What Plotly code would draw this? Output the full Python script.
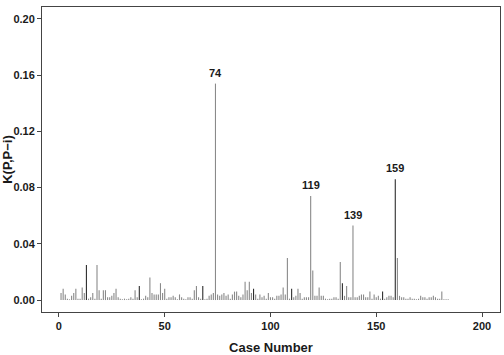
import plotly.graph_objects as go

cases = list(range(1, 185))
k_values = [
    0.005, 0.008, 0.004, 0.001, 0.0005, 0.003, 0.005, 0.008, 0.001, 0.001,
    0.009, 0.005, 0.025, 0.001, 0.002, 0.005, 0.001, 0.025, 0.007, 0.001,
    0.007, 0.007, 0.002, 0.002, 0.003, 0.005, 0.008, 0.002, 0.001, 0.0005,
    0.001, 0.0005, 0.001, 0.002, 0.001, 0.007, 0.002, 0.010, 0.0005, 0.001,
    0.003, 0.002, 0.016, 0.005, 0.004, 0.004, 0.004, 0.012, 0.005, 0.008,
    0.001, 0.002, 0.002, 0.003, 0.002, 0.0005, 0.004, 0.002, 0.001, 0.0005,
    0.002, 0.002, 0.001, 0.007, 0.010, 0.002, 0.001, 0.010, 0.0005, 0.001,
    0.003, 0.004, 0.005, 0.154, 0.004, 0.003, 0.004, 0.005, 0.003, 0.004,
    0.001, 0.004, 0.006, 0.006, 0.003, 0.002, 0.004, 0.013, 0.007, 0.013,
    0.005, 0.008, 0.004, 0.001, 0.004, 0.002, 0.003, 0.001, 0.005, 0.002,
    0.002, 0.001, 0.003, 0.003, 0.004, 0.009, 0.004, 0.030, 0.001, 0.008,
    0.002, 0.003, 0.008, 0.005, 0.001, 0.002, 0.002, 0.002, 0.074, 0.021,
    0.003, 0.003, 0.009, 0.003, 0.003, 0.001, 0.0005, 0.001, 0.001, 0.002,
    0.002, 0.001, 0.027, 0.012, 0.003, 0.010, 0.002, 0.002, 0.053, 0.002,
    0.002, 0.003, 0.004, 0.004, 0.002, 0.002, 0.006, 0.001, 0.004, 0.002,
    0.003, 0.001, 0.006, 0.001, 0.002, 0.003, 0.003, 0.002, 0.086, 0.030,
    0.003, 0.002, 0.002, 0.001, 0.001, 0.002, 0.001, 0.001, 0.0005, 0.001,
    0.003, 0.002, 0.002, 0.001, 0.002, 0.002, 0.003, 0.002, 0.001, 0.001,
    0.006, 0.0005, 0.0005, 0.0005,
]
dark_cases = [13, 38, 68, 92, 110, 134, 153, 159]
labelled_cases = [74, 119, 139, 159]
x_ticks = [0, 50, 100, 150, 200]
y_ticks = [0.00, 0.04, 0.08, 0.12, 0.16, 0.20]


def spikes(selector):
    xs, ys = [], []
    for c, v in zip(cases, k_values):
        if selector(c):
            xs += [c, c, None]
            ys += [0, v, None]
    return xs, ys


fig = go.Figure()
gx, gy = spikes(lambda c: c not in dark_cases)
dx, dy = spikes(lambda c: c in dark_cases)
fig.add_trace(go.Scatter(x=gx, y=gy, mode="lines",
                         line=dict(color="#8a8a8a", width=1.1),
                         hoverinfo="skip", showlegend=False))
fig.add_trace(go.Scatter(x=dx, y=dy, mode="lines",
                         line=dict(color="#2e2e2e", width=1.1),
                         hoverinfo="skip", showlegend=False))

for c in labelled_cases:
    v = k_values[c - 1]
    fig.add_annotation(x=c, y=v, text=str(c), showarrow=False,
                       yanchor="bottom", yshift=3,
                       font=dict(family="Liberation Sans, Arial", size=11,
                                 color="#1a1a1a", weight="bold"))

axis_font = dict(family="Liberation Sans, Arial", size=11, color="#1a1a1a", weight="bold")
fig.update_layout(
    width=504, height=355,
    margin=dict(l=42, r=4, t=7, b=43),
    paper_bgcolor="white", plot_bgcolor="white",
    xaxis=dict(range=[-8, 208.5], tickvals=x_ticks,
               ticktext=[str(t) for t in x_ticks],
               showgrid=False, zeroline=False, automargin=False,
               showline=True, mirror=True, linecolor="#444444", linewidth=1,
               ticks="outside", ticklen=4, tickcolor="#444444",
               tickfont=axis_font,
               title=dict(text="Case Number", standoff=12,
                          font=dict(family="Liberation Sans, Arial", size=13,
                                    color="#1a1a1a", weight="bold"))),
    yaxis=dict(range=[-0.0085, 0.2085], tickvals=y_ticks,
               ticktext=[f"{t:.2f}" for t in y_ticks],
               showgrid=False, zeroline=False, automargin=False,
               showline=True, mirror=True, linecolor="#444444", linewidth=1,
               ticks="outside", ticklen=4, tickcolor="#444444",
               tickfont=axis_font,
               title=dict(text="K(P,P\u2212i)", standoff=2,
                          font=dict(family="Liberation Sans, Arial", size=13,
                                    color="#1a1a1a", weight="bold"))),
)

fig.write_html("out.html")
